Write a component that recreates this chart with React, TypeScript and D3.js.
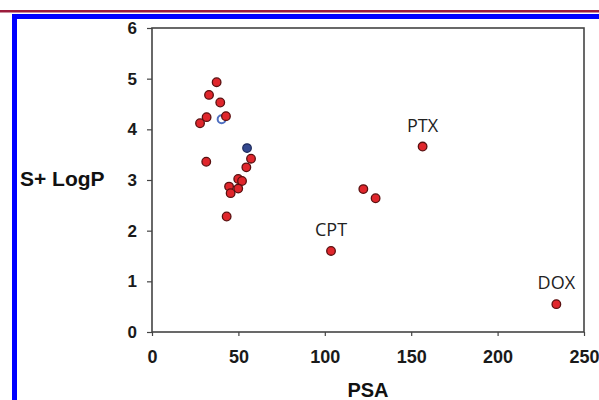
import { useEffect, useRef } from 'react'
import * as d3 from 'd3'

// PSA vs S+ LogP
const PSA = [37.4, 33.0, 39.5, 31.6, 27.8, 42.8, 57.3, 54.6, 31.4, 49.9, 52.1, 44.6, 49.9, 45.5, 43.2, 156.6, 122.3, 129.4, 103.6, 234.0]
const LOGP = [4.93, 4.68, 4.53, 4.24, 4.12, 4.26, 3.42, 3.25, 3.36, 3.02, 2.98, 2.87, 2.83, 2.74, 2.28, 3.66, 2.82, 2.64, 1.60, 0.55]
const BLUE_PSA = [55.0]
const BLUE_LOGP = [3.63]
const RING_PSA = [40.3]
const RING_LOGP = [4.2]
const LABELS = ['PTX', 'CPT', 'DOX']
const LABEL_PSA = [156.6, 103.6, 234.0]
const LABEL_LOGP = [3.66, 1.60, 0.55]
const X_TICKS = [0, 50, 100, 150, 200, 250]
const Y_TICKS = [0, 1, 2, 3, 4, 5, 6]

export default function App() {
  const ref = useRef<SVGSVGElement>(null)
  useEffect(() => {
    if (!ref.current) return
    const W = 599, H = 400
    const svg = d3.select(ref.current)
    svg.selectAll('*').remove()

    // page frame
    svg.append('rect').attr('width', W).attr('height', H).attr('fill', '#fff')
    svg.append('rect').attr('x', 0).attr('y', 10).attr('width', W).attr('height', 2.5).attr('fill', '#9b1c3c')
    svg.append('rect').attr('x', 12).attr('y', 14).attr('width', W - 12).attr('height', 5).attr('fill', '#0000ff')
    svg.append('rect').attr('x', 12).attr('y', 14).attr('width', 5).attr('height', H - 14).attr('fill', '#0000ff')

    const x = d3.scaleLinear().domain([0, 250]).range([152, 584])
    const y = d3.scaleLinear().domain([0, 6]).range([332, 28])

    const tickStyle = (size: number) => (g: any) => {
      g.select('.domain').remove()
      g.selectAll('line').attr('stroke', '#444').attr('stroke-width', 1.2)
      g.selectAll('text').attr('fill', '#1a1a1a').style('font-family', 'Liberation Sans, Arial, sans-serif')
        .style('font-size', size + 'px').style('font-weight', 'bold')
    }
    svg.append('g').attr('transform', 'translate(0,332)')
      .call(d3.axisBottom(x).tickValues(X_TICKS).tickSize(4).tickPadding(14).tickFormat(d3.format('d')))
      .call(tickStyle(18))
    svg.append('g').attr('transform', 'translate(152,0)')
      .call(d3.axisLeft(y).tickValues(Y_TICKS).tickSize(5).tickPadding(10).tickFormat(d3.format('d')))
      .call(tickStyle(17))

    // plot box
    svg.append('rect').attr('x', x(0)).attr('y', y(6)).attr('width', x(250) - x(0)).attr('height', y(0) - y(6))
      .attr('fill', 'none').attr('stroke', '#444').attr('stroke-width', 1.6)

    svg.append('g').selectAll('circle').data(RING_PSA.map((p, i) => ({ p, l: RING_LOGP[i] }))).join('circle')
      .attr('cx', d => x(d.p)).attr('cy', d => y(d.l)).attr('r', 4)
      .attr('fill', '#fff').attr('stroke', '#4f6fc0').attr('stroke-width', 2)
    const pts = PSA.map((p, i) => ({ p, l: LOGP[i] }))
    svg.append('g').selectAll('circle').data(pts).join('circle')
      .attr('cx', d => x(d.p)).attr('cy', d => y(d.l)).attr('r', 4.3)
      .attr('fill', '#e0262c').attr('stroke', '#5a1010').attr('stroke-width', 1.3)
    svg.append('g').selectAll('circle').data(BLUE_PSA.map((p, i) => ({ p, l: BLUE_LOGP[i] }))).join('circle')
      .attr('cx', d => x(d.p)).attr('cy', d => y(d.l)).attr('r', 4.3)
      .attr('fill', '#33488f').attr('stroke', '#1d2a5c').attr('stroke-width', 1.2)

    svg.append('g').selectAll('text').data(LABELS.map((t, i) => ({ t, p: LABEL_PSA[i], l: LABEL_LOGP[i] }))).join('text')
      .attr('x', d => x(d.p)).attr('y', d => y(d.l) - 15).attr('text-anchor', 'middle')
      .attr('fill', '#222').style('font-family', 'Open Sans, sans-serif').style('font-size', '18px')
      .text(d => d.t)

    svg.append('text').attr('x', 20).attr('y', 186).attr('fill', '#111')
      .style('font-family', 'Liberation Sans, Arial, sans-serif').style('font-size', '21px').style('font-weight', 'bold')
      .text('S+ LogP')
    svg.append('text').attr('x', 368).attr('y', 397).attr('text-anchor', 'middle').attr('fill', '#111')
      .style('font-family', 'Liberation Sans, Arial, sans-serif').style('font-size', '20px').style('font-weight', 'bold')
      .text('PSA')
  }, [])
  return <svg ref={ref} width={599} height={400} style={{ position: 'absolute', left: 0, top: 0 }} />
}
